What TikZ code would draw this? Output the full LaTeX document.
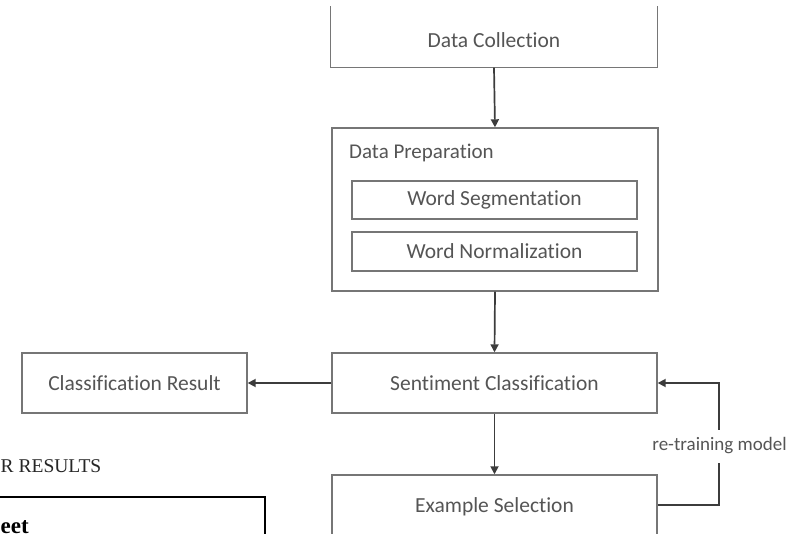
\documentclass[tikz,border=0pt]{standalone}
\usepackage{fontspec}
\setmainfont{Carlito}[Ligatures=NoCommon]
\newfontfamily\docserif{Liberation Serif}
\usetikzlibrary{arrows.meta,calc}

\definecolor{boxline}{HTML}{767676}
\definecolor{boxtext}{HTML}{555555}
\definecolor{arrowline}{HTML}{3C3C3C}

\tikzset{
  stagebox/.style={draw=boxline, line width=1.4pt, rectangle, inner sep=0pt,
    text=boxtext, font=\fontsize{21.5}{25}\selectfont},
  flowarrow/.style={draw=arrowline, line width=1.7pt,
    -{Triangle[length=8pt,width=8pt]}},
  x=1pt, y=-1pt
}

\begin{document}
\begin{tikzpicture}
  \useasboundingbox (0,0) rectangle (787,534);
  \clip (0,0) rectangle (787,534);
  \fill[white] (0,0) rectangle (787,534);

  % Data collection (top edge out of view)
  \node[stagebox, draw=none, minimum width=326pt, minimum height=54pt] (dc) at (494,40) {Data Collection};
  \draw[boxline, line width=1.4pt] ([yshift=6pt]dc.north west) -- (dc.south west) -- (dc.south east) -- ([yshift=6pt]dc.north east);

  % Data preparation with its two sub-steps
  \node[stagebox, minimum width=326pt, minimum height=163pt] (dp) at (495,209.5) {};
  \node[text=boxtext, font=\fontsize{21}{25}\selectfont, anchor=west, inner sep=0pt] (dptitle) at (349,153) {Data Preparation};
  \node[stagebox, minimum width=285pt, minimum height=38pt] (ws) at (494.5,200) {Word Segmentation};
  \node[stagebox, minimum width=285pt, minimum height=39pt] (wn) at (494.5,251.5) {Word Normalization};

  % Classification stages
  \node[stagebox, minimum width=325pt, minimum height=60pt] (sc) at (494.5,383) {Sentiment Classification};
  \node[stagebox, minimum width=225pt, minimum height=60pt] (cr) at (134.5,383) {Classification Result};
  \node[stagebox, minimum width=325pt, minimum height=64pt] (es) at (494.5,507) {Example Selection};

  % Flow
  \draw[flowarrow] (dc.south) -- (dp.north);
  \draw[flowarrow] (dp.south) -- (sc.north);
  \draw[flowarrow] (sc.west) -- (cr.east);
  \draw[flowarrow] (sc.south) -- (es.north);

  % Feedback loop
  \coordinate (loopout) at ($(es.east)+(0,-2)$);
  \coordinate (loopcorner) at (719,0);
  \draw[flowarrow] (loopout) -| (loopcorner |- sc.east) -- (sc.east);
  \node[fill=white, text=boxtext, font=\fontsize{19}{22}\selectfont, inner sep=0pt, minimum height=33pt] (retrain) at (719.5,446) {re-training model};

  % Surrounding page text
  \node[anchor=base west, inner sep=0pt, text=black!85, font=\docserif\fontsize{19.5}{24}\selectfont] (sect) at (0.5,472) {R RESULTS};
  \draw[black, line width=2.8pt] (-10,497) -- (265,497) -- (265,545);
  \node[anchor=base west, inner sep=0pt, text=black, font=\docserif\bfseries\fontsize{23}{26}\selectfont] (tbl) at (0.5,533) {eet};
\end{tikzpicture}
\end{document}
